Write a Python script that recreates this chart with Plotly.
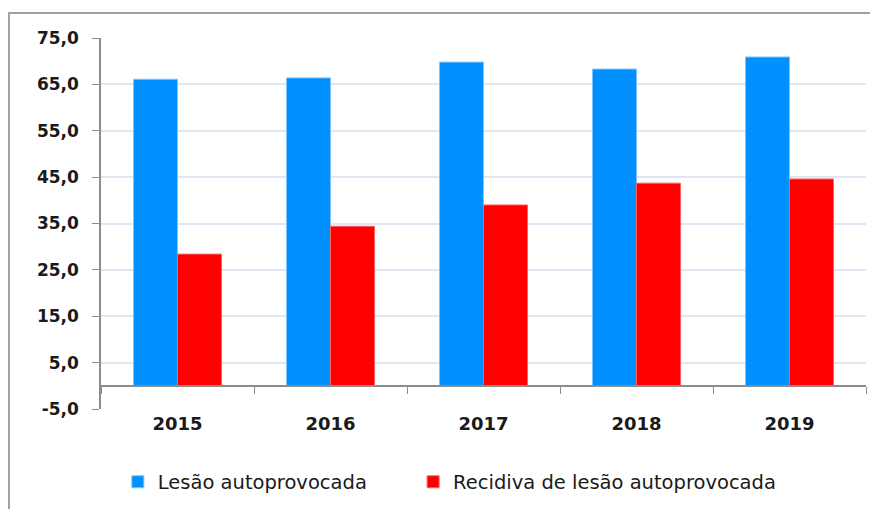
import plotly.graph_objects as go

# values
anos = ['2015', '2016', '2017', '2018', '2019']
lesao = [66.1, 66.4, 69.8, 68.3, 70.9]
recidiva = [28.4, 34.4, 39.0, 43.7, 44.6]
yticks = [-5, 5, 15, 25, 35, 45, 55, 65, 75]
ylabels = ['-5,0', '5,0', '15,0', '25,0', '35,0', '45,0', '55,0', '65,0', '75,0']

FONT = 'DejaVu Sans'
TXT = '#1a1a1a'

fig = go.Figure()
fig.add_trace(go.Bar(
    x=anos, y=lesao, name='Lesão autoprovocada', legend='legend',
    marker=dict(color='#0090ff', line=dict(color='#7cc4ff', width=1))
))
fig.add_trace(go.Bar(
    x=anos, y=recidiva, name='Recidiva de lesão autoprovocada', legend='legend2',
    marker=dict(color='#ff0000', line=dict(color='#ff6060', width=1))
))
# invisible helper trace so the second x axis (tick marks at zero) renders
fig.add_trace(go.Bar(x=anos, y=[0] * len(anos), xaxis='x2', showlegend=False,
                     hoverinfo='skip', marker=dict(color='rgba(0,0,0,0)')))

leg = dict(orientation='h', xanchor='left', y=-0.197, yanchor='middle',
           font=dict(family=FONT, size=19.5, color=TXT), itemwidth=30,
           bgcolor='rgba(0,0,0,0)')

# page body has an 8px margin, so the figure is shrunk and shifted to compensate
fig.update_layout(
    width=870, height=501,
    margin=dict(l=93, r=12, t=30, b=100, autoexpand=False),
    paper_bgcolor='white', plot_bgcolor='white',
    barmode='group', bargap=0.425, bargroupgap=0,
    font=dict(family=FONT, size=17, color=TXT),
    showlegend=True,
    legend=dict(leg, x=0.022),
    legend2=dict(leg, x=0.408),
    xaxis=dict(showline=False, ticks='', showgrid=False, ticklabelstandoff=2,
               tickfont=dict(family=FONT, size=18, color=TXT, weight='bold')),
    xaxis2=dict(overlaying='x', matches='x', anchor='free', position=5 / 80,
                showline=True, linecolor='#8c8c8c', linewidth=1.5,
                ticks='outside', tickson='boundaries', ticklen=7, tickcolor='#8c8c8c',
                showticklabels=False, showgrid=False),
    yaxis=dict(range=[-5, 75], tickvals=yticks, ticktext=ylabels,
               showline=True, linecolor='#8c8c8c', linewidth=1.5,
               ticks='outside', ticklen=7, tickcolor='#8c8c8c', ticklabelstandoff=10,
               showgrid=True, gridcolor='#dde8f4', gridwidth=1.5, zeroline=False,
               tickfont=dict(family=FONT, size=17, color=TXT, weight='bold')),
    shapes=[dict(type='rect', xref='paper', yref='paper',
                 x0=-0.1203, x1=1.1, y0=-0.3, y1=1.0674,
                 line=dict(color='#a0a0a0', width=2))],
)

fig.write_html('out.html')
